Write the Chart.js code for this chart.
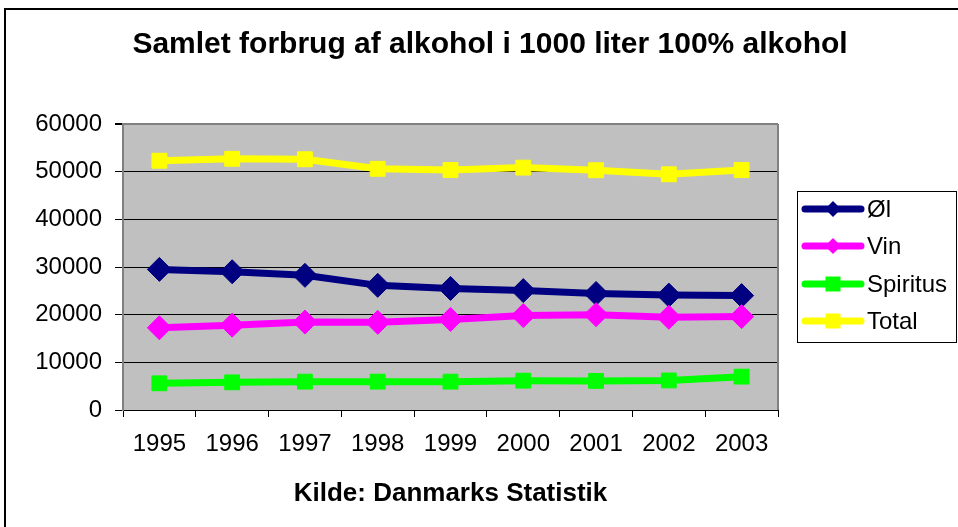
<!DOCTYPE html>
<html>
<head>
<meta charset="utf-8">
<script src="https://cdn.jsdelivr.net/npm/chart.js@4.4.1/dist/chart.umd.min.js"></script>
<style>
html, body { margin: 0; padding: 0; background: #fff; }
#wrap { position: relative; width: 958px; height: 527px; }
</style>
</head>
<body>
<div id="wrap"><canvas id="chart" width="958" height="527"></canvas></div>
<script>
// Data
const years = ['1995', '1996', '1997', '1998', '1999', '2000', '2001', '2002', '2003'];
const olValues = [29500, 29000, 28250, 26150, 25500, 25050, 24450, 24100, 24000];
const vinValues = [17250, 17800, 18450, 18400, 19000, 19800, 20000, 19450, 19600];
const spiritusValues = [5600, 5800, 5950, 5950, 5950, 6150, 6100, 6200, 7000];
const totalValues = [52300, 52700, 52600, 50600, 50350, 50850, 50300, 49450, 50350];
const yTicks = [0, 10000, 20000, 30000, 40000, 50000, 60000];

const FONT = "'Liberation Sans', Arial, sans-serif";

function drawMarker(ctx, style, x, y, r, color) {
    ctx.fillStyle = color;
    ctx.beginPath();
    if (style === 'rectRot') {
        ctx.moveTo(x, y - r);
        ctx.lineTo(x + r, y);
        ctx.lineTo(x, y + r);
        ctx.lineTo(x - r, y);
        ctx.closePath();
    } else {
        ctx.rect(x - r, y - r, 2 * r, 2 * r);
    }
    ctx.fill();
}

// plot background, outer frame, right border of plot
const plotFrame = {
    id: 'plotFrame',
    beforeDraw(chart) {
        const { ctx, chartArea: a } = chart;
        ctx.save();
        ctx.fillStyle = '#fff';
        ctx.fillRect(0, 0, chart.width, chart.height);
        ctx.strokeStyle = '#000';
        ctx.lineWidth = 2;
        ctx.strokeRect(5, 9, chart.width + 40, chart.height + 40);
        ctx.fillStyle = '#c0c0c0';
        ctx.fillRect(a.left, a.top, a.right - a.left, a.bottom - a.top);
        ctx.restore();
    },
    beforeDatasetsDraw(chart) {
        const { ctx, chartArea: a } = chart;
        ctx.save();
        ctx.strokeStyle = '#808080';
        ctx.lineWidth = 2;
        ctx.beginPath();
        ctx.moveTo(a.right, a.top);
        ctx.lineTo(a.right, a.bottom);
        ctx.stroke();
        ctx.restore();
    }
};

// legend box on the right, line sample with marker like Excel
const sideLegend = {
    id: 'sideLegend',
    afterDraw(chart) {
        const ctx = chart.ctx;
        const box = { left: 797, top: 191, right: 957, bottom: 343 };
        const rows = [209, 246, 284, 321];
        ctx.save();
        ctx.fillStyle = '#fff';
        ctx.fillRect(box.left, box.top, box.right - box.left, box.bottom - box.top);
        ctx.strokeStyle = '#000';
        ctx.lineWidth = 1;
        ctx.strokeRect(box.left + 0.5, box.top + 0.5, box.right - box.left - 1, box.bottom - box.top - 1);
        chart.data.datasets.forEach((ds, i) => {
            const y = rows[i];
            ctx.strokeStyle = ds.borderColor;
            ctx.lineWidth = 7;
            ctx.lineCap = 'round';
            ctx.beginPath();
            ctx.moveTo(805, y);
            ctx.lineTo(861, y);
            ctx.stroke();
            if (ds.pointStyle === 'rectRot') {
                drawMarker(ctx, 'rectRot', 833, y, 8, ds.borderColor);
            } else {
                drawMarker(ctx, 'rect', 833, y, 7.5, ds.borderColor);
            }
            ctx.fillStyle = '#000';
            ctx.font = '24px ' + FONT;
            ctx.textBaseline = 'middle';
            ctx.textAlign = 'left';
            ctx.fillText(ds.label, 867, y + 1);
        });
        ctx.restore();
    }
};

function series(label, data, color, style, radius, order) {
    return {
        label: label,
        data: data,
        borderColor: color,
        backgroundColor: color,
        borderWidth: 7,
        pointStyle: style,
        pointRadius: radius,
        pointHoverRadius: radius,
        pointBackgroundColor: color,
        pointBorderColor: color,
        pointBorderWidth: 1,
        tension: 0,
        order: order,
        yAxisID: 'y'
    };
}

const ctx = document.getElementById('chart').getContext('2d');
new Chart(ctx, {
    type: 'line',
    data: {
        labels: years,
        datasets: [
            series('Øl', olValues, '#000080', 'rectRot', 12, 4),
            series('Vin', vinValues, '#ff00ff', 'rectRot', 12, 3),
            series('Spiritus', spiritusValues, '#00ff00', 'rect', 10.5, 2),
            series('Total', totalValues, '#ffff00', 'rect', 10.5, 1)
        ]
    },
    options: {
        responsive: false,
        animation: false,
        devicePixelRatio: 1,
        layout: {
            padding: { left: 22, right: 0, top: 0, bottom: 0 }
        },
        plugins: {
            legend: { display: false },
            tooltip: { enabled: false },
            title: {
                display: true,
                text: 'Samlet forbrug af alkohol i 1000 liter 100% alkohol',
                color: '#000',
                font: { family: FONT, size: 30, weight: 'bold' },
                padding: { top: 27, bottom: 61 }
            }
        },
        scales: {
            x: {
                offset: true,
                grid: {
                    offset: true,
                    drawOnChartArea: false,
                    drawTicks: true,
                    tickLength: 7,
                    tickColor: '#000'
                },
                border: { display: true, color: '#000', width: 1 },
                ticks: {
                    color: '#000',
                    font: { family: FONT, size: 24 },
                    padding: 13,
                    maxRotation: 0,
                    autoSkip: false
                },
                title: {
                    display: true,
                    text: 'Kilde: Danmarks Statistik',
                    color: '#000',
                    font: { family: FONT, size: 26, weight: 'bold' },
                    padding: { top: 0, bottom: 18 }
                },
                afterFit(scale) { scale.height = 117; }
            },
            y: {
                min: 0,
                max: 60000,
                afterBuildTicks(scale) {
                    scale.ticks = yTicks.map(v => ({ value: v }));
                },
                grid: {
                    color: ctx => (ctx.tick && ctx.tick.value === 60000) ? '#808080' : '#000',
                    lineWidth: ctx => (ctx.tick && ctx.tick.value === 60000) ? 2 : 1,
                    tickColor: '#000',
                    tickLength: 8,
                    drawTicks: true
                },
                border: { display: true, color: '#808080', width: 2 },
                ticks: {
                    color: '#000',
                    font: { family: FONT, size: 24 },
                    padding: 13,
                    callback: v => String(v)
                },
                afterFit(scale) { scale.width = 101; }
            },
            spacer: {
                position: 'right',
                display: true,
                grid: { display: false },
                border: { display: false },
                ticks: { display: false },
                afterFit(scale) { scale.width = 180; }
            }
        }
    },
    plugins: [plotFrame, sideLegend]
});
</script>
</body>
</html>
